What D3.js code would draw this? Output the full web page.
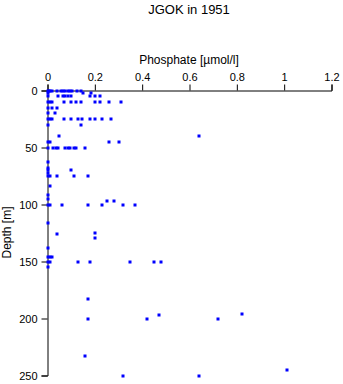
<!DOCTYPE html>
<html><head><meta charset="utf-8">
<script src="https://cdn.jsdelivr.net/npm/d3@7"></script>
<style>body{margin:0;background:#fff}svg{display:block}text{font-family:"Liberation Sans",Arial,sans-serif}</style>
</head><body>
<script>
const title = "JGOK in 1951";
const xLabel = "Phosphate [\u00b5mol/l]";
const yLabel = "Depth [m]";
const xTicks = [0, 0.2, 0.4, 0.6, 0.8, 1, 1.2];
const yTicks = [0, 50, 100, 150, 200, 250];
const depth = [
  0,0,0,0,0,0,0,0,0,0,0,0,0,
  2,2,2,
  5,5,5,5,5,5,5,5,5,
  10,10,10,10,10,10,10,10,10,10,10,
  15,15,15,
  20,20,
  25,25,25,25,25,25,25,25,25,25,25,
  30,30,
  40,40,
  45,45,45,45,
  50,50,50,50,50,50,50,50,50,50,
  63,68,70,72,70,
  75,75,75,75,75,
  84,92,95,
  100,100,100,100,100,100,100,97,97,
  116,126,125,129,138,
  146,146,146,
  150,150,150,150,150,150,150,
  155,183,
  200,200,200,197,196,
  233,250,250,245
];
const phosphate = [
  0,0.005,0.01,0.02,0.04,0.055,0.065,0.075,0.085,0.095,0.105,0.125,0.14,
  0,0.15,0.185,
  0,0.045,0.065,0.075,0.085,0.1,0.18,0.2,0.22,
  0,0.01,0.02,0.07,0.1,0.12,0.14,0.2,0.22,0.26,0.31,
  0,0.02,0.04,
  0,0.03,
  0,0.01,0.02,0.07,0.1,0.13,0.145,0.18,0.2,0.23,0.27,
  0,0.14,
  0.05,0.64,
  0,0.01,0.26,0.3,
  0,0.025,0.035,0.045,0.075,0.085,0.095,0.11,0.12,0.16,
  0,0,0,0,0.1,
  0,0.01,0.04,0.11,0.17,
  0.01,0,0,
  0,0.01,0.06,0.17,0.23,0.32,0.37,0.25,0.28,
  0,0.04,0.2,0.2,0,
  0,0.01,0.02,
  0,0.01,0.13,0.18,0.35,0.45,0.48,
  0,0.17,
  0.17,0.42,0.72,0.47,0.82,
  0.16,0.32,0.64,1.01
];

const W = 343, H = 384;
const svg = d3.select("body").append("svg").attr("width", W).attr("height", H);
const x = d3.scaleLinear().domain([0, 1.2]).range([47.5, 331.5]);
const y = d3.scaleLinear().domain([0, 250]).range([90.5, 375.5]);

svg.append("text").attr("x", 189).attr("y", 14).attr("text-anchor", "middle")
  .attr("font-size", 13).text(title);
svg.append("text").attr("x", 189).attr("y", 64).attr("text-anchor", "middle")
  .attr("font-size", 12).text(xLabel);
svg.append("text").attr("transform", "translate(11,232.5) rotate(-90)")
  .attr("text-anchor", "middle").attr("font-size", 12).text(yLabel);

const xAxis = svg.append("g").attr("transform", "translate(0,90.5)")
  .call(d3.axisTop(x).tickValues(xTicks).tickFormat(d3.format("")).tickSizeOuter(0).tickSize(6).tickPadding(4));
const yAxis = svg.append("g").attr("transform", "translate(47.5,0)")
  .call(d3.axisLeft(y).tickValues(yTicks).tickSizeOuter(0).tickSize(6).tickPadding(4));
[xAxis, yAxis].forEach(g => {
  g.select(".domain").attr("stroke", "#000");
  g.selectAll("line").attr("stroke", "#000");
  g.selectAll("text").attr("font-size", 11).attr("fill", "#000")
    .attr("font-family", "\"Liberation Sans\",Arial,sans-serif");
});

const pts = depth.map((d, i) => ({d, v: phosphate[i]}));
svg.append("g").selectAll("rect").data(pts).join("rect")
  .attr("x", p => Math.round(x(p.v)) - 1.5)
  .attr("y", p => Math.round(y(p.d)) - 1.5)
  .attr("width", 3).attr("height", 3).attr("fill", "#0000ff");
</script>
</body></html>
